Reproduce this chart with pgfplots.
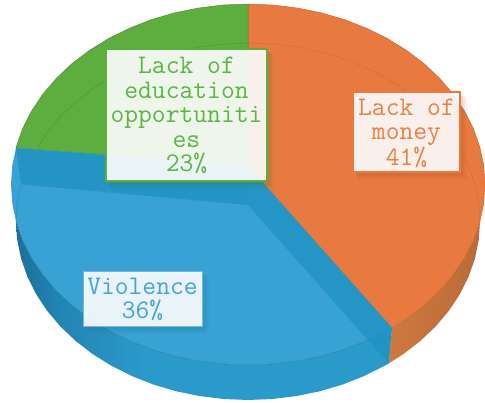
\documentclass[border=0pt]{standalone}
\usepackage{pgfplots}
\usepackage{fontspec}
\pgfplotsset{compat=1.18}
\setmainfont{Liberation Sans}

\definecolor{pieorange}{HTML}{E87A40}
\definecolor{piegreen}{HTML}{5DAD3F}
\definecolor{pieblue}{HTML}{37A2D3}
\definecolor{bandblue}{HTML}{2193C2}
\definecolor{textgreen}{HTML}{5CB546}
\definecolor{textorange}{HTML}{EA8048}
\definecolor{textblue}{HTML}{3FA6D8}
\definecolor{edgeblue}{HTML}{6CBBE0}
\definecolor{wallblue}{HTML}{2A9ACB}
\definecolor{wallbluedark}{HTML}{1D6F9C}
\definecolor{wallbluemid}{HTML}{2385B4}
\definecolor{wallorange}{HTML}{CE7840}
\definecolor{wallorangedark}{HTML}{B86C38}

% Side wall shadings: the 25bp..75bp range spans the width of the filled path
\pgfdeclarehorizontalshading{bluewall}{100bp}{
  color(0bp)=(wallbluedark); color(25bp)=(wallbluedark);
  color(31bp)=(wallbluemid); color(42bp)=(wallblue);
  color(100bp)=(wallblue)}
\pgfdeclarehorizontalshading{orangewall}{100bp}{
  color(0bp)=(wallorange); color(25bp)=(wallorange);
  color(75bp)=(wallorangedark); color(100bp)=(wallorangedark)}

% Callout: corners, colours and text
\newcommand{\callout}[9]{%
  \fill[#5!70!black,opacity=.07] (axis cs:#1+5,#2+5) rectangle (axis cs:#3+7,#4+8);
  \fill[#5!70!black,opacity=.09] (axis cs:#1+4,#2+4) rectangle (axis cs:#3+5,#4+6);
  \fill[#5!70!black,opacity=.12] (axis cs:#1+3,#2+3) rectangle (axis cs:#3+3,#4+4);
  \draw[draw=#6,line width=#7,fill=white,fill opacity=.9] (axis cs:#1,#2) rectangle (axis cs:#3,#4);
  \node[text=#8,align=center,inner sep=0pt,font=\ttfamily\fontsize{26.8}{24.5}\selectfont]
    at (axis cs:{(#1+#3)/2},{(#2+#4)/2+1}) {#9};
}

\begin{document}
\begin{tikzpicture}
\path[use as bounding box] (0,0) rectangle (485pt,402pt);
\begin{axis}[
  at={(0,0)},anchor=south west,
  scale only axis,width=485pt,height=402pt,
  xmin=0,xmax=485,ymin=0,ymax=402,y dir=reverse,
  hide axis,clip=true]

% Side wall under the Violence slice (36%)
\addplot[shading=bluewall,draw=none] coordinates {
  (392,328) (387.3,330.5) (366.5,340.75) (344.4,349.4) (321.2,356.2) (297.3,361.0)
  (272.8,364.0) (248,365) (223.2,364.0) (198.7,361.0) (174.8,356.2) (151.6,349.4)
  (129.5,340.75) (108.7,330.5) (89.4,318.6) (71.9,305.3) (56.3,290.6) (42.8,274.75)
  (31.5,257.9) (22.6,240.3) (16.2,222.0)
  (16,221.5) (17.3,240.2) (21.1,258.6) (27.4,276.7) (36.1,294.1) (47.1,310.75)
  (60.3,326.4) (75.6,340.9) (92.8,354.2) (111.6,365.9) (132,376.1) (153.6,384.6)
  (176.3,391.3) (199.8,396.1) (223.8,399) (248,400) (272.2,399) (296.2,396.1)
  (319.7,391.3) (342.4,384.6) (364,376.1) (384.4,365.9) (388.8,363.4) (392,328)};

% Side wall under the Lack of money slice (41%)
\addplot[shading=orangewall,draw=none] coordinates {
  (392,328) (406.6,318.6) (424.1,305.3) (439.7,290.6) (453.2,274.75) (464.5,257.9)
  (473.4,240.3) (479.8,222.0)
  (480,221.5) (478.7,240.2) (474.9,258.6) (468.6,276.7) (459.9,294.1) (448.9,310.75)
  (435.7,326.4) (420.4,340.9) (403.2,354.2) (388.8,363.4) (392,328)};

% Top face: Lack of money, 41%
\addplot[fill=pieorange,draw=pieorange!85!black,line width=.5pt] coordinates {
  (248,166) (248,4) (272.8,5.0) (297.3,8.0) (321.2,12.8) (344.4,19.6) (366.5,28.2)
  (387.3,38.5) (406.6,50.4) (424.1,63.7) (439.7,78.4) (453.2,94.25) (464.5,111.1)
  (473.4,128.7) (479.8,147.0) (483.7,165.6) (485,184.5) (483.7,203.4) (479.8,222.0)
  (473.4,240.3) (464.5,257.9) (453.2,274.75) (439.7,290.6) (424.1,305.3) (406.6,318.6)
  (392,328) (248,166)};

% Top face: Lack of education opportunities, 23%
\addplot[fill=piegreen,draw=piegreen!85!black,line width=.5pt] coordinates {
  (248,166) (16,148) (16.2,147.0) (22.6,128.7) (31.5,111.1) (42.8,94.25) (56.3,78.4)
  (71.9,63.7) (89.4,50.4) (108.7,38.5) (129.5,28.2) (151.6,19.6) (174.8,12.8)
  (198.7,8.0) (223.2,5.0) (248,4) (248,166)};

% Top face: Violence, 36%
\addplot[fill=pieblue,draw=none] coordinates {
  (248,166) (392,328) (387.3,330.5) (366.5,340.75) (344.4,349.4) (321.2,356.2)
  (297.3,361.0) (272.8,364.0) (248,365) (223.2,364.0) (198.7,361.0) (174.8,356.2)
  (151.6,349.4) (129.5,340.75) (108.7,330.5) (89.4,318.6) (71.9,305.3) (56.3,290.6)
  (42.8,274.75) (31.5,257.9) (22.6,240.3) (16.2,222.0) (12.3,203.4) (11,184.5)
  (12.3,165.6) (16,148) (248,166)};

% Rim between the top of the Violence slice and its side wall
\addplot[draw=bandblue!80!black,line width=.5pt,opacity=.7] coordinates {
  (392,328) (387.3,330.5) (366.5,340.75) (344.4,349.4) (321.2,356.2)
  (297.3,361.0) (272.8,364.0) (248,365) (223.2,364.0) (198.7,361.0) (174.8,356.2)
  (151.6,349.4) (129.5,340.75) (108.7,330.5) (89.4,318.6) (71.9,305.3) (56.3,290.6)
  (42.8,274.75) (31.5,257.9) (22.6,240.3) (16.2,222.0)};

% Cut faces of the Violence slice, showing through its translucent top
\addplot[fill=bandblue,fill opacity=.9,draw=none] coordinates {
  (16,148) (248,166) (248,205) (21.1,184.4) (16,148)};
\addplot[fill=bandblue,fill opacity=.85,draw=none] coordinates {
  (248,166) (392,328) (388.8,363.4) (248,205) (248,166)};

% Far rim of the base, faintly visible through the top
\addplot[draw=pieorange!85!black,line width=.5pt,opacity=.6] coordinates {
  (248,43) (272.2,44) (296.2,46.9) (319.7,51.7) (342.4,58.4) (364,66.9) (384.4,77.1)
  (403.2,88.9) (420.4,102.1) (435.7,116.6) (448.9,132.25) (459.9,148.9) (468.6,166.3)
  (474.9,184.4) (478.7,202.8) (480,221.5)};
\addplot[draw=piegreen!80!black,line width=.5pt,opacity=.6] coordinates {
  (38,147) (47.1,132.25) (60.3,116.6) (75.6,102.1) (92.8,88.9) (111.6,77.1) (132,66.9)
  (153.6,58.4) (176.3,51.7) (199.8,46.9) (223.8,44) (248,43)};
\addplot[draw=bandblue!85!black,line width=.5pt,opacity=.5] coordinates {
  (21.1,184.4) (17.3,202.8) (16,221.5) (17.3,240.2)};

\callout{106}{49}{267}{180.5}{piegreen}{piegreen}{2pt}{textgreen}{Lack of\\education\\opportuniti\\es\\23\%}
\callout{353}{92}{460}{172}{pieorange}{pieorange}{1.6pt}{textorange}{Lack of\\money\\41\%}
\callout{83}{271}{202}{326}{pieblue}{edgeblue}{1pt}{textblue}{Violence\\36\%}
\end{axis}
\end{tikzpicture}
\end{document}
